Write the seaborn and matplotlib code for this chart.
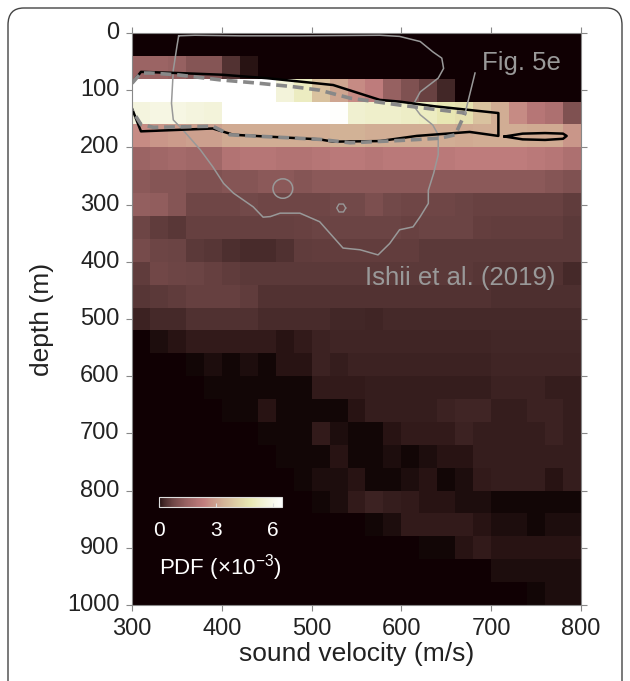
import numpy as np
import pandas as pd
import seaborn as sns
from matplotlib import pyplot as plt
from matplotlib.colors import ListedColormap
from matplotlib.patches import FancyBboxPatch, Ellipse

# bin edges of the 2-D histogram
velocity_bins = [300, 320, 340, 360, 380, 400, 420, 440, 460, 480, 500, 520, 540,
                 560, 580, 600, 620, 640, 660, 680, 700, 720, 740, 760, 780]
depth_bins = [0, 40, 80, 120, 160, 200, 240, 280, 320, 360, 400, 440, 480,
              520, 560, 600, 640, 680, 720, 760, 800, 840, 880, 920, 960]

# PDF (x 1e-3), one row per depth bin
pdf = [
    [0, 0, 0, 0, 0, 0, 0, 0, 0, 0, 0, 0, 0, 0, 0, 0, 0, 0, 0, 0, 0, 0, 0, 0, 0],
    [1.5, 1.5, 1.4, 1.1, 1.1, 0.4, 0.08, 0, 0, 0, 0, 0, 0, 0, 0, 0, 0, 0, 0, 0, 0, 0, 0, 0, 0],
    [9.0, 9.5, 9.8, 9.6, 9.2, 8.5, 7.8, 7.2, 5.6, 5.1, 3.8, 3.1, 2.6, 2.3, 1.4, 1.0, 0.65, 0.25, 0, 0, 0, 0, 0, 0, 0],
    [5.7, 5.8, 5.8, 5.7, 5.6, 7.0, 7.5, 7.8, 7.6, 7.3, 7.0, 6.4, 5.4, 5.3, 5.3, 5.2, 5.1, 4.8, 4.6, 3.8, 3.3, 2.6, 2.1, 1.9, 1.0],
    [2.6, 2.8, 2.9, 3.0, 3.0, 3.2, 3.3, 3.3, 3.3, 3.3, 3.3, 3.4, 3.4, 3.3, 3.3, 3.3, 3.3, 3.3, 3.2, 3.3, 3.3, 3.3, 3.2, 3.2, 2.8],
    [1.5, 1.6, 1.7, 1.6, 1.6, 2.0, 2.1, 2.1, 2.0, 2.0, 2.1, 2.2, 2.2, 2.1, 2.2, 2.2, 2.2, 2.2, 2.3, 2.3, 2.3, 2.3, 2.2, 2.1, 1.9],
    [1.2, 1.1, 1.1, 1.0, 1.0, 1.1, 1.1, 1.2, 1.2, 1.1, 1.2, 1.2, 1.2, 1.2, 1.2, 1.2, 1.2, 1.2, 1.2, 1.2, 1.2, 1.2, 1.2, 1.1, 1.0],
    [1.35, 1.3, 1.1, 0.75, 0.75, 0.75, 0.8, 0.75, 0.75, 0.75, 0.75, 0.8, 0.8, 0.95, 0.8, 0.75, 0.75, 0.75, 0.7, 0.65, 0.65, 0.65, 0.65, 0.65, 0.55],
    [0.73, 0.55, 0.46, 0.63, 0.63, 0.63, 0.63, 0.63, 0.63, 0.65, 0.69, 0.69, 0.69, 0.69, 0.69, 0.65, 0.69, 0.69, 0.69, 0.6, 0.58, 0.58, 0.58, 0.58, 0.5],
    [0.84, 0.73, 0.69, 0.5, 0.45, 0.35, 0.3, 0.3, 0.37, 0.54, 0.58, 0.58, 0.58, 0.58, 0.58, 0.58, 0.5, 0.5, 0.5, 0.5, 0.5, 0.5, 0.5, 0.5, 0.5],
    [0.54, 0.78, 0.73, 0.69, 0.61, 0.54, 0.5, 0.5, 0.5, 0.5, 0.5, 0.5, 0.5, 0.5, 0.5, 0.5, 0.5, 0.5, 0.5, 0.45, 0.4, 0.4, 0.4, 0.4, 0.26],
    [0.45, 0.5, 0.54, 0.61, 0.61, 0.61, 0.54, 0.4, 0.4, 0.4, 0.4, 0.4, 0.4, 0.4, 0.4, 0.4, 0.4, 0.4, 0.4, 0.4, 0.35, 0.35, 0.35, 0.35, 0.35],
    [0.18, 0.26, 0.26, 0.37, 0.37, 0.37, 0.37, 0.3, 0.3, 0.3, 0.28, 0.24, 0.24, 0.21, 0.26, 0.26, 0.26, 0.26, 0.26, 0.26, 0.26, 0.26, 0.26, 0.26, 0.26],
    [0, 0.06, 0.094, 0.12, 0.12, 0.12, 0.12, 0.12, 0.094, 0.12, 0.18, 0.21, 0.21, 0.21, 0.21, 0.21, 0.21, 0.21, 0.21, 0.21, 0.24, 0.24, 0.24, 0.24, 0.24],
    [0, 0, 0, 0.05, 0.06, 0.035, 0.06, 0.035, 0.09, 0.094, 0.18, 0.135, 0.18, 0.18, 0.18, 0.18, 0.18, 0.18, 0.18, 0.18, 0.21, 0.21, 0.21, 0.21, 0.21],
    [0, 0, 0, 0, 0.05, 0.03, 0.05, 0.04, 0.05, 0.05, 0.12, 0.12, 0.12, 0.135, 0.135, 0.135, 0.135, 0.135, 0.135, 0.135, 0.18, 0.18, 0.18, 0.135, 0.135],
    [0, 0, 0, 0, 0, 0.05, 0.05, 0.094, 0.05, 0.05, 0.05, 0.05, 0.094, 0.135, 0.135, 0.135, 0.135, 0.18, 0.21, 0.21, 0.135, 0.135, 0.18, 0.18, 0.135],
    [0, 0, 0, 0, 0, 0, 0, 0.05, 0.05, 0.05, 0.12, 0.06, 0.05, 0.05, 0.094, 0.12, 0.12, 0.12, 0.18, 0.15, 0.15, 0.15, 0.15, 0.18, 0.15],
    [0, 0, 0, 0, 0, 0, 0, 0, 0.05, 0.05, 0.05, 0.094, 0.05, 0.05, 0.06, 0.045, 0.06, 0.094, 0.094, 0.135, 0.135, 0.135, 0.135, 0.135, 0.135],
    [0, 0, 0, 0, 0, 0, 0, 0, 0, 0.03, 0.06, 0.07, 0.094, 0.05, 0.05, 0.07, 0.094, 0.05, 0.07, 0.12, 0.135, 0.135, 0.135, 0.094, 0.135],
    [0, 0, 0, 0, 0, 0, 0, 0, 0, 0, 0.03, 0.06, 0.12, 0.18, 0.135, 0.12, 0.094, 0.094, 0.06, 0.06, 0.05, 0.05, 0.045, 0.045, 0.045],
    [0, 0, 0, 0, 0, 0, 0, 0, 0, 0, 0, 0, 0, 0.03, 0.06, 0.12, 0.12, 0.12, 0.12, 0.094, 0.07, 0.07, 0.05, 0.07, 0.07],
    [0, 0, 0, 0, 0, 0, 0, 0, 0, 0, 0, 0, 0, 0, 0, 0, 0.03, 0.05, 0.094, 0.12, 0.094, 0.094, 0.094, 0.094, 0.094],
    [0, 0, 0, 0, 0, 0, 0, 0, 0, 0, 0, 0, 0, 0, 0, 0, 0, 0, 0, 0, 0.06, 0.07, 0.07, 0.07, 0.07],
    [0, 0, 0, 0, 0, 0, 0, 0, 0, 0, 0, 0, 0, 0, 0, 0, 0, 0, 0, 0, 0, 0, 0.03, 0.06, 0.06],
]

# contour of this study (black) and of Fig. 5e (grey dashed), (velocity, depth)
black_v = [300, 310, 350, 400, 450, 487, 524, 576, 598, 636, 708, 708, 676, 617, 576, 524, 509, 413, 390, 310, 300]
black_d = [88, 68, 70, 73, 79, 85, 91, 117, 120, 128, 140, 180, 173, 180, 189, 190, 186, 178, 167, 172, 132]
islet_v = [715, 735, 760, 780, 784, 780, 760, 735, 715]
islet_d = [181, 176, 175, 176, 180, 185, 187, 186, 181]
fig5e_v = [300, 310, 320, 350, 398, 435, 480, 509, 543, 598, 671, 660, 643, 598, 543, 509, 409, 390, 324, 310, 300]
fig5e_d = [88, 70, 70, 73, 82, 87, 94, 100, 114, 126, 140, 178, 184, 188, 192, 186, 178, 163, 165, 160, 135]

# Ishii et al. (2019) outline
ishii_v = [352, 350, 346, 344, 346, 357, 376, 390, 402, 413, 435, 446, 454, 465, 487, 509, 535, 554,
           574, 587, 598, 613, 621, 630, 630, 636, 641, 641, 635, 621, 613, 621, 641, 647, 645, 635,
           621, 598, 576, 487, 420, 370, 352]
ishii_d = [5, 24, 65, 123, 152, 170, 204, 234, 263, 280, 304, 322, 321, 315, 315, 330, 376, 379,
           388, 368, 344, 339, 321, 298, 275, 245, 213, 178, 161, 143, 126, 103, 79, 62, 44, 33,
           15, 6, 4, 5, 5, 4, 5]
ishii_loop = (468, 272, 11, 17)   # centre v, centre d, half width, half height
ishii_hex = (533, 306, 5, 8)

plt.rcParams["font.family"] = ["Liberation Sans", "DejaVu Sans"]
plt.rcParams["mathtext.fontset"] = "custom"
plt.rcParams["mathtext.rm"] = "Liberation Sans"
plt.rcParams["mathtext.it"] = "Liberation Sans:italic"

tab = pd.DataFrame(pdf, index=depth_bins, columns=velocity_bins)

dv = velocity_bins[1] - velocity_bins[0]
dd = depth_bins[1] - depth_bins[0]


def to_cell(v, d):
    # data units -> heatmap cell units
    return (np.asarray(v) - velocity_bins[0]) / dv, np.asarray(d) / dd


# pink, with the darkest end a bit less red
cols = plt.get_cmap("pink")(np.linspace(0, 1, 256))
cap = 1.65 * cols[:, 1] + 0.03
cols[:, 0] = np.minimum(cols[:, 0], cap)
cmap = ListedColormap(cols)

fig = plt.figure(figsize=(6.3, 6.81), dpi=100)
ax = fig.add_axes([0.2095, 0.1116, 0.7127, 0.84])
ax.set_facecolor("#100003")
sns.heatmap(tab, ax=ax, cmap=cmap, vmin=0, vmax=6.5, mask=tab == 0, cbar=False)

grey = "#999999"
x, y = to_cell(ishii_v, ishii_d)
ax.plot(x, y, color=grey, lw=1.1)
cv, cd, rv, rd = ishii_loop
cx, cy = to_cell(cv, cd)
ax.add_patch(Ellipse((cx, cy), 2 * rv / dv, 2 * rd / dd, fill=False, ec=grey, lw=1.1))
cv, cd, rv, rd = ishii_hex
ang = np.linspace(0, 2 * np.pi, 7)
hx, hy = to_cell(cv + rv * np.cos(ang), cd + rd * np.sin(ang))
ax.plot(hx, hy, color=grey, lw=1.0)

x, y = to_cell(black_v, black_d)
ax.plot(x, y, color="black", lw=1.8)
x, y = to_cell(islet_v, islet_d)
ax.plot(x, y, color="black", lw=1.8)
x, y = to_cell(fig5e_v, fig5e_d)
ax.plot(x, y, color="#888888", lw=2.6, ls=(0, (3, 1.6)))

tx, ty = to_cell(690, 52)
ax.text(tx, ty, "Fig. 5e", color=grey, fontsize=18.5, va="center", ha="left")
px, py = to_cell([682, 671], [70, 140])
ax.plot(px, py, color=grey, lw=1.1)
tx, ty = to_cell(559, 429)
ax.text(tx, ty, "Ishii et al. (2019)", color=grey, fontsize=18.5, va="center", ha="left")

xt = [300, 400, 500, 600, 700, 800]
yt = [0, 100, 200, 300, 400, 500, 600, 700, 800, 900, 1000]
ax.set_xticks(to_cell(xt, 0)[0])
ax.set_xticklabels([str(v) for v in xt], rotation=0)
ax.set_yticks(to_cell(300, yt)[1])
ax.set_yticklabels([str(v) for v in yt], rotation=0)
ax.tick_params(direction="out", length=4, width=0.8, color="#888888", labelsize=17,
               labelcolor="#222222", top=True, right=True, pad=5)
for s in ax.spines.values():
    s.set_visible(True)
    s.set_color("#888888")
    s.set_linewidth(0.8)
ax.set_xlabel("sound velocity (m/s)", fontsize=19, color="#222222", labelpad=2)
ax.set_ylabel("depth (m)", fontsize=19, color="#222222", labelpad=9)

cax = fig.add_axes([159 / 630, 1 - 507 / 681, 123 / 630, 10 / 681])
cb = fig.colorbar(ax.collections[0], cax=cax, orientation="horizontal")
cb.set_ticks([0, 3, 6])
cb.outline.set_edgecolor("#dddddd")
cb.outline.set_linewidth(0.8)
cax.tick_params(direction="in", length=3, color="#dddddd", labelcolor="white",
                labelsize=15, pad=10)
cax.set_xlabel("PDF (×10$^{-3}$)", color="white", fontsize=16, labelpad=9)

frame = FancyBboxPatch((8 / 630, -0.05), 614 / 630, 1.05 - 8 / 681,
                       boxstyle="round,pad=0,rounding_size=0.025",
                       transform=fig.transFigure, fill=False, ec="#444444", lw=1.0)
fig.patches.append(frame)

fig.savefig("out.png", dpi=100)
